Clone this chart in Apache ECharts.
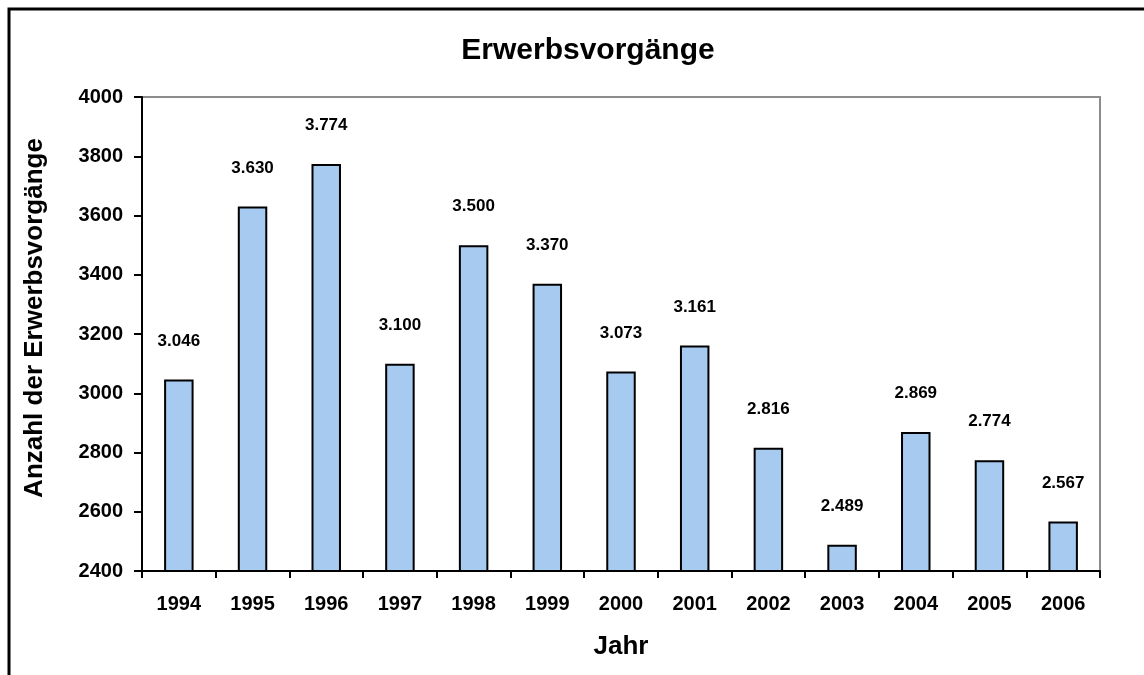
<!DOCTYPE html>
<html>
<head>
<meta charset="utf-8">
<script src="https://cdn.jsdelivr.net/npm/echarts@6/dist/echarts.min.js"></script>
<style>
  html, body { margin: 0; padding: 0; background: #fff; }
  #chart { width: 1144px; height: 675px; }
</style>
</head>
<body>
<div id="chart"></div>
<script>
// Daten
const jahre = ['1994', '1995', '1996', '1997', '1998', '1999', '2000', '2001', '2002', '2003', '2004', '2005', '2006'];
const erwerbsvorgaenge = [3046, 3630, 3774, 3100, 3500, 3370, 3073, 3161, 2816, 2489, 2869, 2774, 2567];
const yTicks = [2400, 2600, 2800, 3000, 3200, 3400, 3600, 3800, 4000];

const font = 'Arial, "Liberation Sans", sans-serif';

// 3046 -> "3.046"
const fmt = v => String(v).replace(/\B(?=(\d{3})+(?!\d))/g, '.');

const chart = echarts.init(document.getElementById('chart'));

const option = {
  animation: false,
  backgroundColor: '#fff',
  textStyle: { fontFamily: font },
  title: {
    text: 'Erwerbsvorgänge',
    left: 583,
    top: 31,
    textAlign: 'center',
    textStyle: { fontFamily: font, fontSize: 30, fontWeight: 'bold', color: '#000' }
  },
  graphic: [{
    type: 'rect',
    shape: { x: 9, y: 9, width: 1160, height: 700 },
    style: { fill: 'none', stroke: '#000', lineWidth: 3 },
    silent: true
  }],
  grid: {
    left: 142,
    top: 97,
    right: 44,
    bottom: 104,
    show: true,
    borderColor: '#8c8c8c',
    borderWidth: 2
  },
  xAxis: {
    type: 'category',
    data: jahre,
    name: 'Jahr',
    nameLocation: 'middle',
    nameGap: 63,
    nameTextStyle: { fontFamily: font, fontSize: 26, fontWeight: 'bold', color: '#000' },
    axisLine: { lineStyle: { color: '#000', width: 2 } },
    axisTick: { show: true, length: 7, lineStyle: { color: '#000', width: 2 } },
    axisLabel: { fontFamily: font, fontSize: 20, fontWeight: 'bold', color: '#000', margin: 23 }
  },
  yAxis: {
    type: 'value',
    min: yTicks[0],
    max: yTicks[yTicks.length - 1],
    interval: 200,
    name: 'Anzahl der Erwerbsvorgänge',
    nameLocation: 'middle',
    nameGap: 94,
    nameTextStyle: { fontFamily: font, fontSize: 26, fontWeight: 'bold', color: '#000', padding: [0, 0, 0, 32] },
    axisLine: { show: true, lineStyle: { color: '#000', width: 2 } },
    axisTick: { show: true, length: 8, lineStyle: { color: '#000', width: 2 } },
    splitLine: { show: false },
    axisLabel: { fontFamily: font, fontSize: 20, fontWeight: 'bold', color: '#000', margin: 19, formatter: v => String(v) }
  },
  series: [{
    type: 'bar',
    data: erwerbsvorgaenge,
    barWidth: '40%',
    itemStyle: { color: '#a6caf0', borderColor: '#000', borderWidth: 2 },
    label: {
      show: true,
      position: 'top',
      distance: 30,
      fontFamily: font,
      fontSize: 17,
      fontWeight: 'bold',
      color: '#000',
      formatter: p => fmt(p.value)
    }
  }]
};

chart.setOption(option);
</script>
</body>
</html>
